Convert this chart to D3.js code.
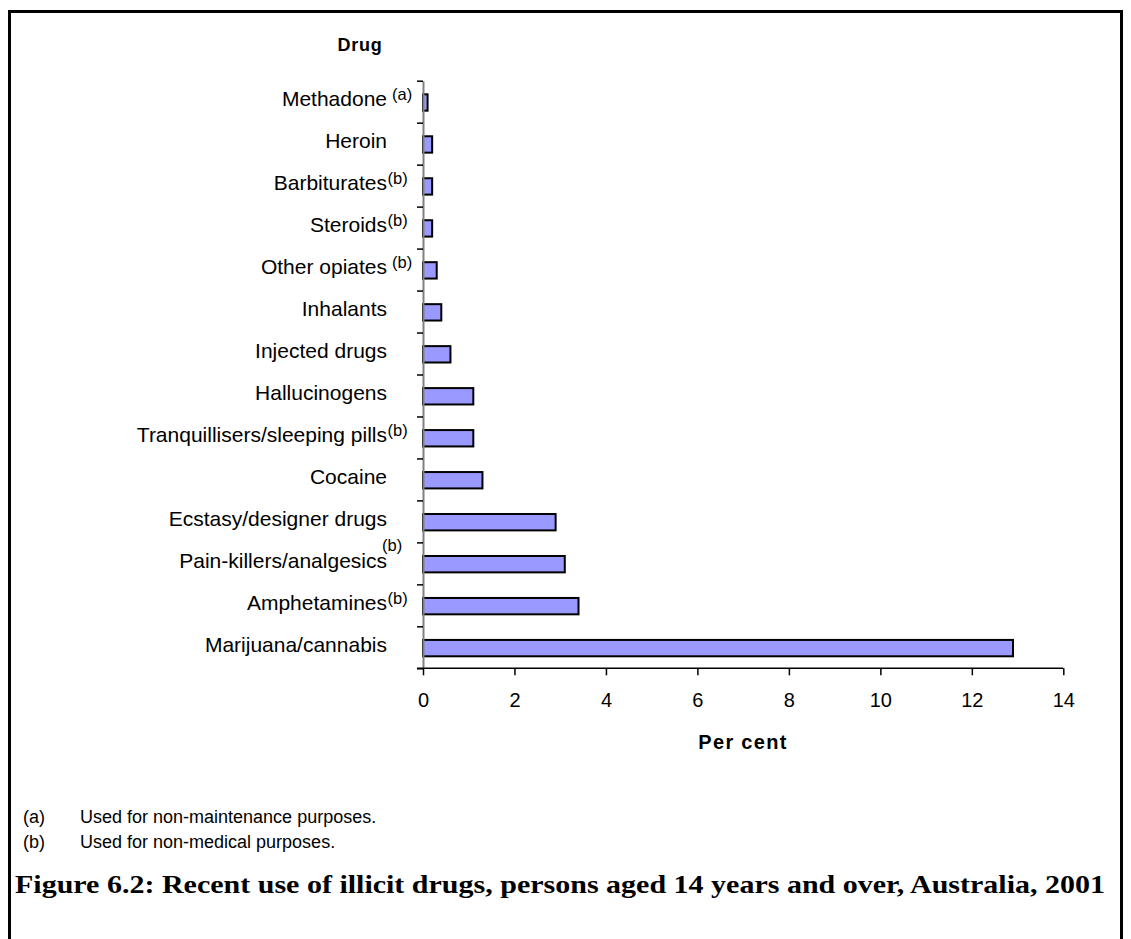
<!DOCTYPE html>
<html><head><meta charset="utf-8">
<script src="https://cdn.jsdelivr.net/npm/d3@7"></script>
<style>body{margin:0;background:#fff} svg{display:block}</style>
</head><body><svg id="c" width="1131" height="939"></svg>
<script>
const categories = ["Methadone","Heroin","Barbiturates","Steroids","Other opiates","Inhalants","Injected drugs","Hallucinogens","Tranquillisers/sleeping pills","Cocaine","Ecstasy/designer drugs","Pain-killers/analgesics","Amphetamines","Marijuana/cannabis"];
const values = [0.1,0.2,0.2,0.2,0.3,0.4,0.6,1.1,1.1,1.3,2.9,3.1,3.4,12.9];
const notes = ["a","","b","b","b","","","","b","","","b","b",""];
const xTicks = [0,2,4,6,8,10,12,14];
const footnoteKeys = ["(a)","(b)"];
const footnoteTexts = ["Used for non-maintenance purposes.","Used for non-medical purposes."];
const yTitle = "Drug";
const xTitle = "Per cent";
const figTitle = "Figure 6.2: Recent use of illicit drugs, persons aged 14 years and over, Australia, 2001";

const svg = d3.select("#c");
const F = "'Liberation Sans', Arial, sans-serif";
const L = 423, R = 1063.3, T = 80.7, B = 668.3;

// frame
svg.append("path").attr("d", `M9.5,939 V11.5 H1121.5 V939`).attr("fill","none").attr("stroke","#000").attr("stroke-width",3);

const x = d3.scaleLinear().domain([0,14]).range([L,R]);
const y = d3.scaleBand().domain(categories).range([T,B]).padding(0);
const yi = d3.scaleLinear().domain([0,categories.length]).range([T,B]);
const bh = y.bandwidth()*0.39;

// bars
svg.append("g").selectAll("rect").data(values).join("rect")
  .attr("x", x(0)).attr("y",(d,i)=>y(categories[i])+y.bandwidth()/2-bh/2+0.8)
  .attr("width",d=>x(d)-x(0)).attr("height",bh)
  .attr("fill","#9999ff").attr("stroke","#000").attr("stroke-width",2);

// y axis (ticks at band boundaries)
const ya = svg.append("g").attr("transform",`translate(${L},0)`)
  .call(d3.axisLeft(yi).tickValues(d3.range(0,categories.length+1)).tickSize(6).tickSizeOuter(0).tickFormat(""));
ya.select(".domain").attr("stroke","#808080").attr("stroke-width",2);
ya.selectAll(".tick line").attr("stroke","#000").attr("stroke-width",1.5);

// x axis
const xa = svg.append("g").attr("transform",`translate(0,${B})`)
  .call(d3.axisBottom(x).tickValues(xTicks).tickSize(7).tickSizeOuter(0).tickPadding(18));
xa.select(".domain").attr("stroke","#000").attr("stroke-width",1.5).attr("d",`M${L-6},0H${R}`);
xa.selectAll(".tick line").attr("stroke","#000").attr("stroke-width",1.5);
xa.selectAll(".tick text").attr("font-family",F).attr("font-size",20).attr("fill","#000");

// category labels
const labX = 387;
const lab = svg.append("g");
categories.forEach((c,i)=>{
  const cy = y(c)+y.bandwidth()/2+4.5;
  lab.append("text").attr("x",labX).attr("y",cy).attr("text-anchor","end")
    .attr("font-family",F).attr("font-size",21).attr("fill","#000").text(c);
  if(notes[i]){
    let nx = labX+0.5, ny = cy-6;
    if(c==="Methadone"||c==="Other opiates") nx = labX+5;
    if(c==="Pain-killers/analgesics"){ nx = labX-5; ny = cy-17; }
    lab.append("text").attr("x",nx).attr("y",ny)
      .attr("font-family",F).attr("font-size",16.5).attr("fill","#000").text("("+notes[i]+")");
  }
});

// axis titles
svg.append("text").attr("x",360).attr("y",51).attr("text-anchor","middle")
  .attr("font-family",F).attr("font-weight","bold").attr("font-size",18).attr("letter-spacing",0.8).text(yTitle);
svg.append("text").attr("x",743).attr("y",749).attr("text-anchor","middle")
  .attr("font-family",F).attr("font-weight","bold").attr("font-size",20).attr("letter-spacing",1.3).text(xTitle);

// footnotes
footnoteKeys.forEach((k,i)=>{
  const fy = 823 + i*25;
  svg.append("text").attr("x",23).attr("y",fy).attr("font-family",F).attr("font-size",18).text(k);
  svg.append("text").attr("x",80).attr("y",fy).attr("font-family",F).attr("font-size",18).text(footnoteTexts[i]);
});

// figure title
svg.append("text").attr("x",15).attr("y",893)
  .attr("font-family","'Liberation Serif','Times New Roman',serif").attr("font-weight","bold").attr("font-size",25)
  .attr("textLength",1090).attr("lengthAdjust","spacingAndGlyphs").text(figTitle);
</script></body></html>
